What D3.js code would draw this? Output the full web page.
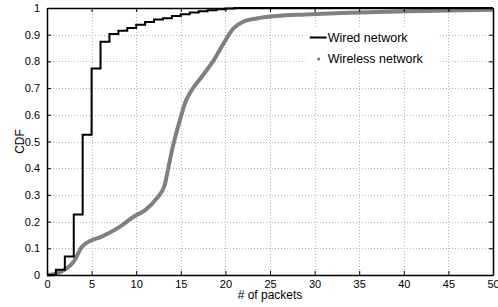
<!DOCTYPE html>
<html>
<head>
<meta charset="utf-8">
<script src="https://cdn.jsdelivr.net/npm/d3@7"></script>
<style>
body { margin: 0; background: #fff; }
text { font-family: "Liberation Sans", Arial, sans-serif; }
</style>
</head>
<body>
<svg id="chart"></svg>
<script>
// wired CDF, step function (value holds from x until next x)
var wiredX = [0, 1, 2, 3, 4, 5, 6, 7, 8, 9, 10, 11, 12, 13, 14, 15, 16, 17, 18, 19, 20, 21, 50]
var wiredY = [0, 0.02, 0.069, 0.227, 0.525, 0.773, 0.874, 0.903, 0.915, 0.925, 0.937, 0.948, 0.957, 0.962, 0.97, 0.977, 0.983, 0.988, 0.992, 0.995, 0.998, 1, 1]

// wireless CDF
var wirelessX = [0, 1, 2, 3, 3.9, 5, 6, 7, 8.2, 9.7, 11, 12.3, 13.2, 13.4, 14.1, 14.9, 15.6, 16, 17.5, 18.6, 19.7, 20.9, 22, 23.5, 25.7, 29, 33, 37, 42, 50]
var wirelessY = [0, 0.005, 0.02, 0.05, 0.105, 0.13, 0.142, 0.158, 0.181, 0.218, 0.243, 0.287, 0.337, 0.368, 0.48, 0.58, 0.655, 0.68, 0.749, 0.8, 0.862, 0.924, 0.949, 0.961, 0.97, 0.976, 0.981, 0.985, 0.989, 0.993]

var xTicks = [0, 5, 10, 15, 20, 25, 30, 35, 40, 45, 50]
var yTicks = [0, 0.1, 0.2, 0.3, 0.4, 0.5, 0.6, 0.7, 0.8, 0.9, 1]
var seriesNames = ["Wired network", "Wireless network"]

var screen = { width: 498, height: 307 }
var margins = { left: 47, right: 5, top: 8, bottom: 32 }
var graph = {
    width: screen.width - margins.left - margins.right,
    height: screen.height - margins.top - margins.bottom
}

var svg = d3.select("#chart")
    .attr("width", screen.width)
    .attr("height", screen.height)

var target = svg.append("g")
    .attr("transform", "translate(" + margins.left + "," + margins.top + ")")

var xScale = d3.scaleLinear().domain([0, 50]).range([0, graph.width])
var yScale = d3.scaleLinear().domain([0, 1]).range([graph.height, 0])

// grid
var grid = target.append("g")
    .attr("stroke", "#b8b8b8")
    .attr("stroke-width", 1)
    .attr("stroke-dasharray", "1,2")
grid.selectAll("line.gx")
    .data(xTicks.slice(1, -1))
    .enter()
    .append("line")
    .attr("x1", function (d) { return Math.round(xScale(d)) + 0.5 })
    .attr("x2", function (d) { return Math.round(xScale(d)) + 0.5 })
    .attr("y1", 0)
    .attr("y2", graph.height)
grid.selectAll("line.gy")
    .data(yTicks.slice(1, -1))
    .enter()
    .append("line")
    .attr("y1", function (d) { return Math.round(yScale(d)) + 0.5 })
    .attr("y2", function (d) { return Math.round(yScale(d)) + 0.5 })
    .attr("x1", 0)
    .attr("x2", graph.width)

// wireless curve
var wireless = wirelessX.map(function (x, i) { return { x: x, y: wirelessY[i] } })
var wirelessLine = d3.line()
    .x(function (d) { return xScale(d.x) })
    .y(function (d) { return yScale(d.y) })
    .curve(d3.curveMonotoneX)
target.append("path")
    .datum(wireless)
    .attr("fill", "none")
    .attr("stroke", "#808080")
    .attr("stroke-width", 4)
    .attr("d", wirelessLine)

// wired steps
var wired = wiredX.map(function (x, i) { return { x: x, y: wiredY[i] } })
var wiredLine = d3.line()
    .x(function (d) { return xScale(d.x) })
    .y(function (d) { return yScale(d.y) })
    .curve(d3.curveStepAfter)
target.append("path")
    .datum(wired)
    .attr("fill", "none")
    .attr("stroke", "#000")
    .attr("stroke-width", 2)
    .attr("d", wiredLine)

// axes, ticks inside, box all round
var xAxis = d3.axisBottom(xScale).tickValues(xTicks).tickSizeInner(-4).tickSizeOuter(0).tickPadding(5)
var yAxis = d3.axisLeft(yScale).tickValues(yTicks).tickSizeInner(-4).tickSizeOuter(0).tickPadding(7)
    .tickFormat(function (d) { return d == 0 || d == 1 ? d : d3.format(".1f")(d) })
var xTop = d3.axisTop(xScale).tickValues(xTicks).tickSizeInner(-4).tickSizeOuter(0).tickFormat("")
var yRight = d3.axisRight(yScale).tickValues(yTicks).tickSizeInner(-4).tickSizeOuter(0).tickFormat("")

var axes = target.append("g")
axes.append("g").attr("transform", "translate(0," + graph.height + ")").call(xAxis)
axes.append("g").call(yAxis)
axes.append("g").call(xTop)
axes.append("g").attr("transform", "translate(" + graph.width + ",0)").call(yRight)
axes.selectAll(".domain").attr("stroke", "#000").attr("stroke-width", 1.5)
axes.selectAll(".tick line").attr("stroke", "#000")
axes.selectAll(".tick text")
    .attr("fill", "#000")
    .style("font-size", "11px")

// legend
var legend = target.append("g")
    .attr("transform", "translate(" + (xScale(29)) + "," + 20 + ")")
legend.append("rect")
    .attr("x", 0)
    .attr("y", 0)
    .attr("width", 132)
    .attr("height", 42)
    .attr("fill", "#fff")
legend.append("line")
    .attr("x1", 4).attr("x2", 21)
    .attr("y1", 9.5).attr("y2", 9.5)
    .attr("stroke", "#000")
    .attr("stroke-width", 2)
legend.append("circle")
    .attr("cx", 13).attr("cy", 31)
    .attr("r", 1.6)
    .attr("fill", "#808080")
legend.selectAll("text")
    .data(seriesNames)
    .enter()
    .append("text")
    .text(function (d) { return d })
    .attr("x", 22)
    .attr("y", function (d, i) { return 14 + i * 21 })
    .style("font-size", "12.5px")

// labels
svg.append("text")
    .text("# of packets")
    .attr("text-anchor", "middle")
    .attr("x", margins.left + graph.width / 2)
    .attr("y", 299)
    .style("font-size", "12px")
svg.append("g")
    .attr("transform", "translate(24," + (margins.top + graph.height / 2) + ")")
    .append("text")
    .text("CDF")
    .attr("text-anchor", "middle")
    .attr("transform", "rotate(-90)")
    .style("font-size", "12px")
</script>
</body>
</html>
